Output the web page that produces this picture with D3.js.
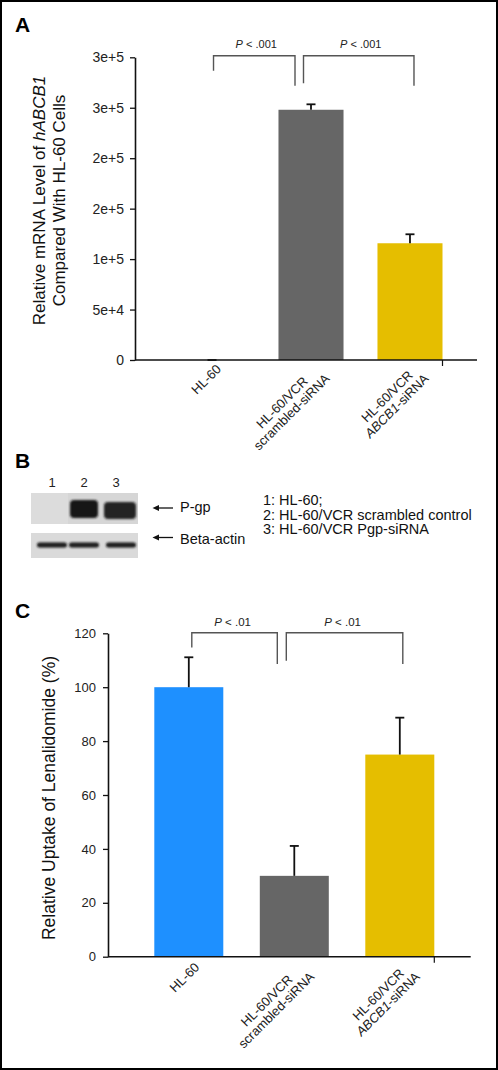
<!DOCTYPE html>
<html><head><meta charset="utf-8">
<script src="https://cdn.jsdelivr.net/npm/d3@7/dist/d3.min.js"></script>
<style>
body{margin:0;background:#fff}
svg{display:block}
text{font-family:"Liberation Sans",Arial,Helvetica,sans-serif}
</style>
</head><body>
<svg id="chart" width="498" height="1070"></svg>
<script>
// ---------- data ----------
const categories = ["HL-60", "HL-60/VCR scrambled-siRNA", "HL-60/VCR ABCB1-siRNA"];
const categoryLabelLines = [["HL-60"], ["HL-60/VCR", "scrambled-siRNA"], ["HL-60/VCR", "<i>ABCB1</i>-siRNA"]];
const barColors = ["#1E90FF", "#666666", "#E5BE00"];

const mrnaValues = [1, 248000, 115700];
const mrnaErrors = [0, 5400, 8900];
const mrnaTicks = [0, 50000, 100000, 150000, 200000, 250000, 300000];
const mrnaTickLabels = ["0", "5e+4", "1e+5", "2e+5", "2e+5", "3e+5", "3e+5"];
const mrnaTitle = ["Relative mRNA Level of <i>hABCB1</i>", "Compared With HL-60 Cells"];
const mrnaBrackets = [
  {from: 0, to: 1, label: "P < .001", top: 301600, legFrom: 286700, legTo: 271800, offFrom: 1.5, offTo: -16},
  {from: 1, to: 2, label: "P < .001", top: 301600, legFrom: 274200, legTo: 271800, offFrom: -7.5, offTo: 4}
];

const uptakeValues = [100, 30, 75];
const uptakeErrors = [11.1, 11.1, 13.7];
const uptakeTicks = [0, 20, 40, 60, 80, 100, 120];
const uptakeTickLabels = ["0", "20", "40", "60", "80", "100", "120"];
const uptakeTitle = ["Relative Uptake of Lenalidomide (%)"];
const uptakeBrackets = [
  {from: 0, to: 1, label: "P < .01", top: 120.2, legFrom: 114.7, legTo: 108.6, offFrom: 3, offTo: -17},
  {from: 1, to: 2, label: "P < .01", top: 120.2, legFrom: 109.8, legTo: 108.6, offFrom: -8, offTo: 3}
];

const blotLanes = ["1", "2", "3"];
const pgpIntensity = [0, 1, 0.93];
const actinIntensity = [1, 1, 1];
const blotRows = ["P-gp", "Beta-actin"];
const blotLegend = ["1: HL-60;", "2: HL-60/VCR scrambled control", "3: HL-60/VCR Pgp-siRNA"];

// ---------- helpers ----------
const svg = d3.select("#chart");
svg.append("rect").attr("x", 1).attr("y", 1).attr("width", 496).attr("height", 1068)
  .attr("fill", "#fff").attr("stroke", "#000").attr("stroke-width", 2);

function rich(textSel, str) {
  str.split(/(<i>.*?<\/i>)/).filter(s => s.length).forEach(part => {
    const it = part.startsWith("<i>");
    textSel.append("tspan").attr("font-style", it ? "italic" : null)
      .text(it ? part.slice(3, -4) : part);
  });
}
function pLabel(sel, x, y, str, size) {
  const t = sel.append("text").attr("x", x).attr("y", y).attr("text-anchor", "middle")
    .attr("font-size", size).attr("fill", "#222");
  const m = str.match(/^P(.*)$/);
  t.append("tspan").attr("font-style", "italic").text("P");
  t.append("tspan").text(m[1]);
}

function barPanel(cfg) {
  const g = svg.append("g");
  const y = d3.scaleLinear().domain([cfg.ticks[0], cfg.ticks[cfg.ticks.length - 1]]).range([cfg.yBot, cfg.yTop]);
  const x = d3.scaleBand().domain(categories).range([cfg.bandL, cfg.bandR]).paddingInner(cfg.padInner).paddingOuter(0);
  const bw = x.bandwidth();

  // bars
  g.selectAll("rect.bar").data(categories).join("rect").attr("class", "bar")
    .attr("x", d => x(d)).attr("width", bw)
    .attr("y", (d, i) => y(cfg.values[i])).attr("height", (d, i) => y(0) - y(cfg.values[i]))
    .attr("fill", (d, i) => barColors[i]);

  // error bars
  const eb = g.selectAll("g.err").data(categories).join("g").attr("class", "err")
    .attr("stroke", "#111").attr("stroke-width", 1.8);
  eb.append("line").attr("x1", d => x(d) + bw / 2).attr("x2", d => x(d) + bw / 2)
    .attr("y1", (d, i) => y(cfg.values[i])).attr("y2", (d, i) => y(cfg.values[i] + cfg.errors[i]));
  eb.append("line").attr("x1", d => x(d) + bw / 2 - 4.5).attr("x2", d => x(d) + bw / 2 + 4.5)
    .attr("y1", (d, i) => y(cfg.values[i] + cfg.errors[i])).attr("y2", (d, i) => y(cfg.values[i] + cfg.errors[i]));

  // y axis
  const ax = g.append("g").attr("transform", `translate(${cfg.x0},0)`)
    .call(d3.axisLeft(y).tickValues(cfg.ticks).tickFormat((d, i) => cfg.tickLabels[i])
      .tickSize(5).tickSizeOuter(0).tickPadding(cfg.tickPad));
  ax.select(".domain").attr("stroke", "#111").attr("stroke-width", 1.6);
  ax.selectAll(".tick line").attr("stroke", "#111").attr("stroke-width", 1.3);
  ax.selectAll(".tick text").attr("font-size", cfg.tickFont).attr("fill", "#222")
    .attr("font-family", "Liberation Sans, Arial, sans-serif");

  // x axis baseline + stray tick
  g.append("line").attr("x1", cfg.x0).attr("x2", cfg.x1).attr("y1", y(0)).attr("y2", y(0))
    .attr("stroke", "#111").attr("stroke-width", 1.6);
  const last = categories[categories.length - 1];
  g.append("line").attr("x1", x(last) + bw).attr("x2", x(last) + bw).attr("y1", y(0)).attr("y2", y(0) + 6)
    .attr("stroke", "#111").attr("stroke-width", 1.2);

  // x labels
  categories.forEach((c, i) => {
    const lg = g.append("g").attr("transform", `translate(${x(c) + bw / 2},${y(0)}) rotate(-45)`);
    const texts = categoryLabelLines[i].map((ln, j) => {
      const t = lg.append("text").attr("y", cfg.labBase + j * cfg.labLh).attr("text-anchor", "middle")
        .attr("font-size", cfg.labFont).attr("fill", "#222");
      rich(t, ln);
      return t;
    });
    const L = d3.max(texts, t => t.node().getComputedTextLength());
    texts.forEach(t => t.attr("x", cfg.labEnd - L / 2));
  });

  // y title
  const tg = g.append("g").attr("transform", `translate(${cfg.titleX},${cfg.titleY}) rotate(-90)`);
  cfg.title.forEach((ln, j) => {
    const t = tg.append("text").attr("x", 0).attr("y", j * cfg.titleLh).attr("text-anchor", "middle")
      .attr("font-size", cfg.titleFont).attr("fill", "#111");
    rich(t, ln);
  });

  // brackets
  cfg.brackets.forEach(b => {
    const xa = x(categories[b.from]) + bw / 2 + b.offFrom;
    const xb = x(categories[b.to]) + bw / 2 + b.offTo;
    g.append("path")
      .attr("d", `M${xa},${y(b.legFrom)}V${y(b.top)}H${xb}V${y(b.legTo)}`)
      .attr("fill", "none").attr("stroke", "#555").attr("stroke-width", 1.4);
    pLabel(g, (xa + xb) / 2 + cfg.pShift, y(b.top) + cfg.pDy, b.label, cfg.pFont);
  });

  // panel letter
  g.append("text").attr("x", 15).attr("y", cfg.letterY).attr("font-size", 21).attr("font-weight", "bold")
    .attr("fill", "#000").text(cfg.letter);
}

barPanel({
  letter: "A", letterY: 32,
  values: mrnaValues, errors: mrnaErrors, ticks: mrnaTicks, tickLabels: mrnaTickLabels,
  x0: 135, x1: 477, yTop: 57.3, yBot: 360, bandL: 179.5, bandR: 442.5, padInner: 0.343,
  tickPad: 6, tickFont: 14,
  labBase: 14, labLh: 13.5, labEnd: 0, labFont: 13,
  title: mrnaTitle, titleX: 45, titleY: 200.5, titleLh: 20, titleFont: 17,
  brackets: mrnaBrackets, pDy: -8, pFont: 11, pShift: 2
});

barPanel({
  letter: "C", letterY: 618,
  values: uptakeValues, errors: uptakeErrors, ticks: uptakeTicks, tickLabels: uptakeTickLabels,
  x0: 108, x1: 470.7, yTop: 633.3, yBot: 956.7, bandL: 154.3, bandR: 434.3, padInner: 0.346,
  tickPad: 7, tickFont: 13,
  labBase: 16, labLh: 13.5, labEnd: 0, labFont: 13,
  title: uptakeTitle, titleX: 55, titleY: 798, titleLh: 20, titleFont: 17.5,
  brackets: uptakeBrackets, pDy: -7, pFont: 11.5, pShift: -2
});

// ---------- panel B: western blot ----------
const gb = svg.append("g");
gb.append("text").attr("x", 15).attr("y", 468).attr("font-size", 21).attr("font-weight", "bold").text("B");
const defs = svg.append("defs");
defs.append("filter").attr("id", "blur").attr("x", "-20%").attr("y", "-40%").attr("width", "140%").attr("height", "180%")
  .append("feGaussianBlur").attr("stdDeviation", 1.1);

const lane = d3.scalePoint().domain(blotLanes).range([52, 116]);
gb.selectAll("text.lane").data(blotLanes).join("text").attr("class", "lane")
  .attr("x", d => lane(d)).attr("y", 486.5).attr("text-anchor", "middle").attr("font-size", 13).attr("fill", "#222")
  .text(d => d);

// P-gp box
gb.append("rect").attr("x", 31).attr("y", 493).attr("width", 107).attr("height", 31).attr("fill", "#d6d6d6");
gb.append("rect").attr("x", 31).attr("y", 493).attr("width", 37).attr("height", 31).attr("fill", "#dcdcdc");
gb.selectAll("rect.pgp").data(blotLanes).join("rect").attr("class", "pgp")
  .attr("x", d => lane(d) - 15 + (d === "3" ? 3 : 1)).attr("width", d => d === "3" ? 32 : 28)
  .attr("y", d => d === "3" ? 502 : 500).attr("height", d => d === "3" ? 17 : 18)
  .attr("rx", 4)
  .attr("fill", "#141414").attr("opacity", (d, i) => pgpIntensity[i]).attr("filter", "url(#blur)");

// actin box
gb.append("rect").attr("x", 31).attr("y", 533).attr("width", 107).attr("height", 25).attr("fill", "#dadada");
gb.selectAll("rect.act").data(blotLanes).join("rect").attr("class", "act")
  .attr("x", d => lane(d) - 15 + (d === "3" ? 5 : 0)).attr("width", 30)
  .attr("y", 542.5).attr("height", 5).attr("rx", 2.5)
  .attr("fill", "#1a1a1a").attr("opacity", (d, i) => actinIntensity[i]).attr("filter", "url(#blur)");

// arrows + row labels
const rowY = d3.scaleOrdinal().domain(blotRows).range([508, 537.5]);
blotRows.forEach(r => {
  const yy = rowY(r);
  gb.append("line").attr("x1", 156).attr("x2", 173).attr("y1", yy).attr("y2", yy).attr("stroke", "#111").attr("stroke-width", 1.3);
  gb.append("path").attr("d", `M152.5,${yy}L159,${yy - 3}L159,${yy + 3}Z`).attr("fill", "#111");
  gb.append("text").attr("x", 180).attr("y", yy + (r === "P-gp" ? 4 : 6.5)).attr("font-size", 14.5).attr("fill", "#111").text(r);
});

gb.selectAll("text.leg").data(blotLegend).join("text").attr("class", "leg")
  .attr("x", 263).attr("y", (d, i) => 505 + i * 14.7).attr("font-size", 14.5).attr("fill", "#111")
  .text(d => d);
</script>
</body></html>
